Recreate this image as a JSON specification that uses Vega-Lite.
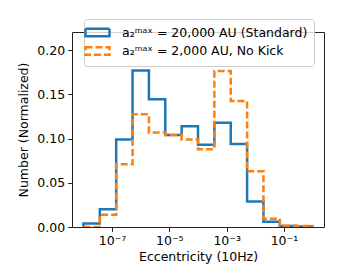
{
  "$schema": "https://vega.github.io/schema/vega-lite/v6.json",
  "autosize": {"type": "none"},
  "padding": {"left": 72, "top": 32, "right": 36, "bottom": 43},
  "width": 252,
  "height": 195,
  "background": "white",
  "config": {
    "view": {"stroke": "#222", "strokeWidth": 1},
    "font": "DejaVu Sans",
    "axis": {
      "labelFont": "DejaVu Sans", "titleFont": "DejaVu Sans",
      "labelFontSize": 12.5, "titleFontSize": 12.5,
      "labelColor": "black", "titleColor": "black",
      "titleFontWeight": "normal",
      "tickColor": "#222", "tickSize": 4.4, "tickWidth": 1,
      "labelPadding": 3, "grid": false, "domain": false
    }
  },
  "data": {"values": [
    {"s": "a₂ᵐᵃˣ = 20,000 AU (Standard)", "o": 0, "x": 1e-8, "y": 0},
    {"s": "a₂ᵐᵃˣ = 20,000 AU (Standard)", "o": 1, "x": 1e-8, "y": 0.004},
    {"s": "a₂ᵐᵃˣ = 20,000 AU (Standard)", "o": 2, "x": 3.7276e-8, "y": 0.020},
    {"s": "a₂ᵐᵃˣ = 20,000 AU (Standard)", "o": 3, "x": 1.3895e-7, "y": 0.099},
    {"s": "a₂ᵐᵃˣ = 20,000 AU (Standard)", "o": 4, "x": 5.1795e-7, "y": 0.177},
    {"s": "a₂ᵐᵃˣ = 20,000 AU (Standard)", "o": 5, "x": 1.9307e-6, "y": 0.1445},
    {"s": "a₂ᵐᵃˣ = 20,000 AU (Standard)", "o": 6, "x": 7.1969e-6, "y": 0.104},
    {"s": "a₂ᵐᵃˣ = 20,000 AU (Standard)", "o": 7, "x": 2.6827e-5, "y": 0.114},
    {"s": "a₂ᵐᵃˣ = 20,000 AU (Standard)", "o": 8, "x": 1e-4, "y": 0.093},
    {"s": "a₂ᵐᵃˣ = 20,000 AU (Standard)", "o": 9, "x": 3.7276e-4, "y": 0.118},
    {"s": "a₂ᵐᵃˣ = 20,000 AU (Standard)", "o": 10, "x": 1.3895e-3, "y": 0.094},
    {"s": "a₂ᵐᵃˣ = 20,000 AU (Standard)", "o": 11, "x": 5.1795e-3, "y": 0.029},
    {"s": "a₂ᵐᵃˣ = 20,000 AU (Standard)", "o": 12, "x": 1.9307e-2, "y": 0.006},
    {"s": "a₂ᵐᵃˣ = 20,000 AU (Standard)", "o": 13, "x": 7.1969e-2, "y": 0.001},
    {"s": "a₂ᵐᵃˣ = 20,000 AU (Standard)", "o": 14, "x": 0.26827, "y": 0.0005},
    {"s": "a₂ᵐᵃˣ = 20,000 AU (Standard)", "o": 15, "x": 1, "y": 0.0005},
    {"s": "a₂ᵐᵃˣ = 20,000 AU (Standard)", "o": 16, "x": 1, "y": 0},
    {"s": "a₂ᵐᵃˣ = 2,000 AU, No Kick", "o": 0, "x": 1e-8, "y": 0},
    {"s": "a₂ᵐᵃˣ = 2,000 AU, No Kick", "o": 1, "x": 1e-8, "y": 0},
    {"s": "a₂ᵐᵃˣ = 2,000 AU, No Kick", "o": 2, "x": 3.7276e-8, "y": 0.014},
    {"s": "a₂ᵐᵃˣ = 2,000 AU, No Kick", "o": 3, "x": 1.3895e-7, "y": 0.071},
    {"s": "a₂ᵐᵃˣ = 2,000 AU, No Kick", "o": 4, "x": 5.1795e-7, "y": 0.1275},
    {"s": "a₂ᵐᵃˣ = 2,000 AU, No Kick", "o": 5, "x": 1.9307e-6, "y": 0.107},
    {"s": "a₂ᵐᵃˣ = 2,000 AU, No Kick", "o": 6, "x": 7.1969e-6, "y": 0.104},
    {"s": "a₂ᵐᵃˣ = 2,000 AU, No Kick", "o": 7, "x": 2.6827e-5, "y": 0.099},
    {"s": "a₂ᵐᵃˣ = 2,000 AU, No Kick", "o": 8, "x": 1e-4, "y": 0.088},
    {"s": "a₂ᵐᵃˣ = 2,000 AU, No Kick", "o": 9, "x": 3.7276e-4, "y": 0.1766},
    {"s": "a₂ᵐᵃˣ = 2,000 AU, No Kick", "o": 10, "x": 1.3895e-3, "y": 0.1426},
    {"s": "a₂ᵐᵃˣ = 2,000 AU, No Kick", "o": 11, "x": 5.1795e-3, "y": 0.063},
    {"s": "a₂ᵐᵃˣ = 2,000 AU, No Kick", "o": 12, "x": 1.9307e-2, "y": 0.0094},
    {"s": "a₂ᵐᵃˣ = 2,000 AU, No Kick", "o": 13, "x": 7.1969e-2, "y": 0.0015},
    {"s": "a₂ᵐᵃˣ = 2,000 AU, No Kick", "o": 14, "x": 0.26827, "y": 0.001},
    {"s": "a₂ᵐᵃˣ = 2,000 AU, No Kick", "o": 15, "x": 1, "y": 0.001},
    {"s": "a₂ᵐᵃˣ = 2,000 AU, No Kick", "o": 16, "x": 1, "y": 0}
  ]},
  "mark": {"type": "line", "interpolate": "step-after", "strokeWidth": 2.5, "clip": true},
  "encoding": {
    "x": {
      "field": "x", "type": "quantitative",
      "scale": {"type": "log", "domain": [3.981e-9, 2.512], "nice": false},
      "axis": {
        "title": "Eccentricity (10Hz)",
        "values": [1e-7, 1e-5, 1e-3, 1e-1],
        "labelExpr": "datum.value < 1e-6 ? '10⁻⁷' : datum.value < 1e-4 ? '10⁻⁵' : datum.value < 1e-2 ? '10⁻³' : '10⁻¹'",
        "titlePadding": 4
      }
    },
    "y": {
      "field": "y", "type": "quantitative",
      "scale": {"domain": [0, 0.2207], "nice": false, "zero": true},
      "axis": {
        "title": "Number (Normalized)",
        "values": [0, 0.05, 0.1, 0.15, 0.2],
        "format": ".2f",
        "titlePadding": 6
      }
    },
    "order": {"field": "o", "type": "quantitative"},
    "color": {
      "field": "s", "type": "nominal",
      "scale": {"domain": ["a₂ᵐᵃˣ = 20,000 AU (Standard)", "a₂ᵐᵃˣ = 2,000 AU, No Kick"], "range": ["#1f77b4", "#ff7f0e"]},
      "legend": {
        "title": null, "orient": "none", "legendX": 12, "legendY": -13,
        "symbolType": "M-2,-0.625H2V0.625H-2Z", "symbolSize": 144,
        "symbolStrokeWidth": 2.5, "symbolFillColor": "transparent",
        "labelFont": "DejaVu Sans", "labelFontSize": 12.5, "labelColor": "black",
        "labelLimit": 400, "labelOffset": 17, "padding": 6, "rowPadding": -0.5,
        "fillColor": "rgba(255,255,255,0.8)", "strokeColor": "#cccccc", "cornerRadius": 3
      }
    },
    "strokeDash": {
      "field": "s", "type": "nominal",
      "scale": {"domain": ["a₂ᵐᵃˣ = 20,000 AU (Standard)", "a₂ᵐᵃˣ = 2,000 AU, No Kick"], "range": [[1, 0], [7, 3]]},
      "legend": null
    }
  }
}
